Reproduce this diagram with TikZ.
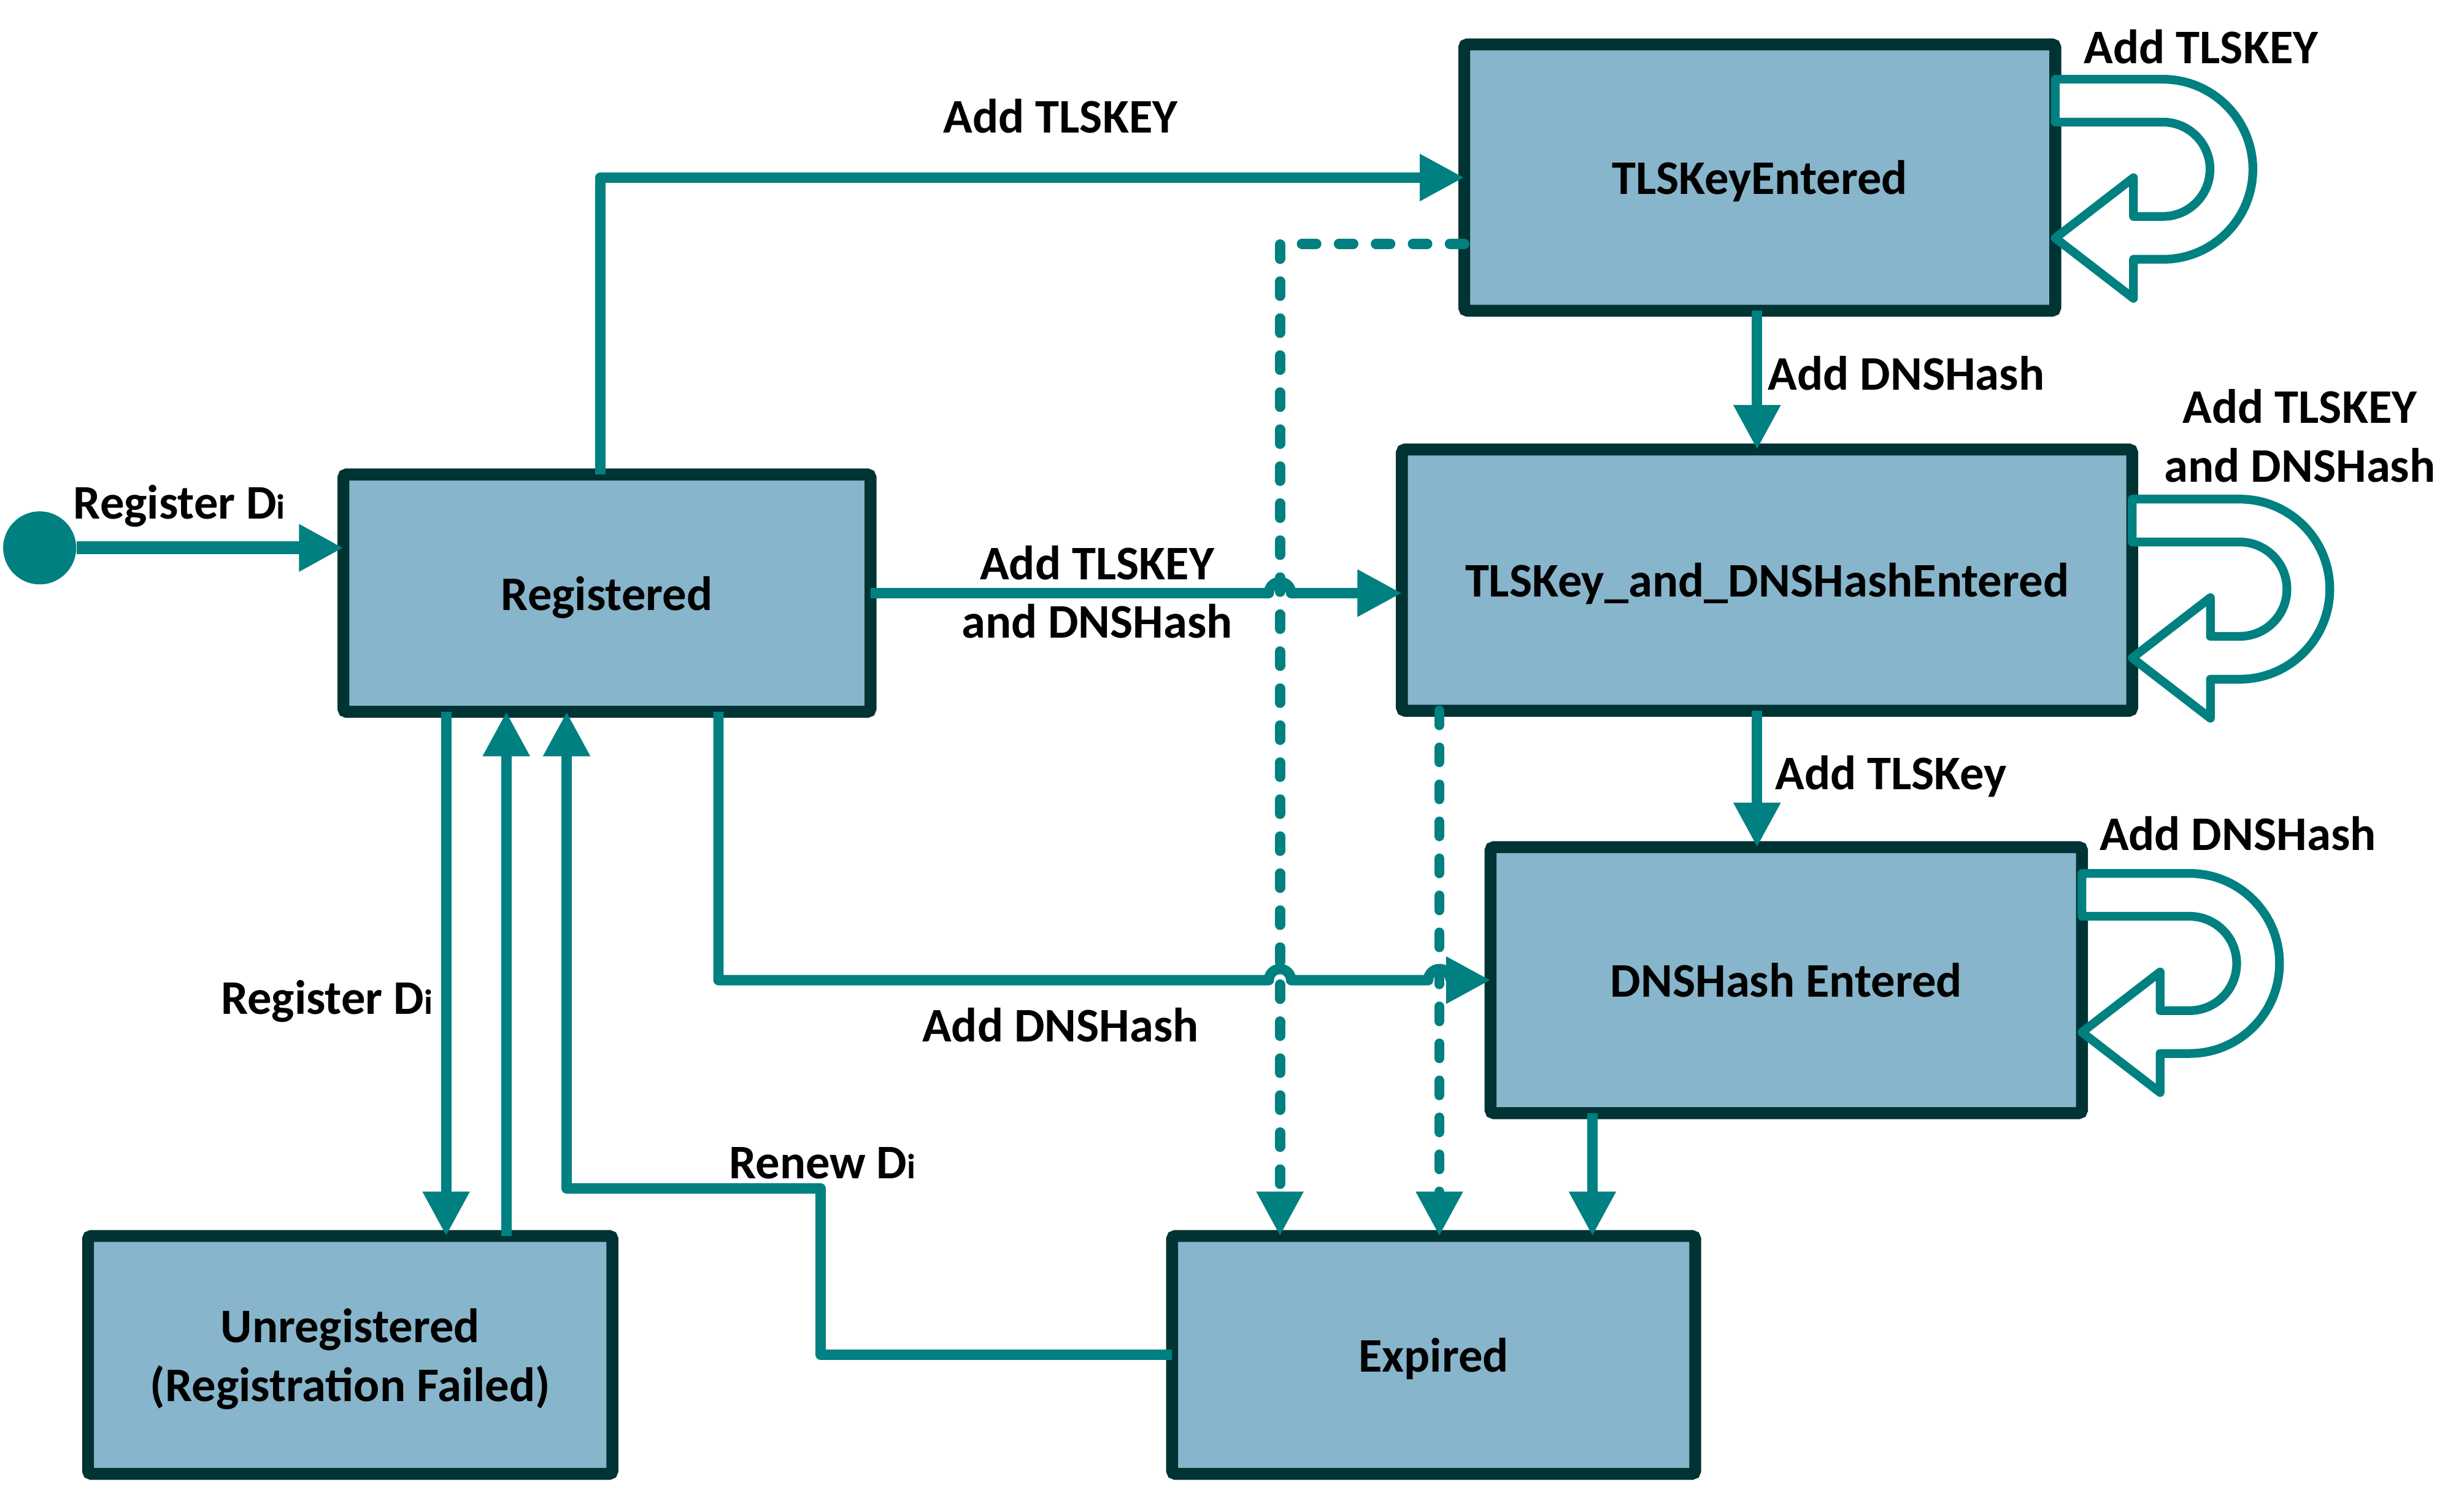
\documentclass[tikz,border=0pt]{standalone}
\usepackage{fontspec}
\setmainfont{Carlito}
\usetikzlibrary{arrows.meta,calc}
\definecolor{cline}{RGB}{0,128,128}
\definecolor{cfill}{RGB}{135,181,203}
\definecolor{cedge}{RGB}{0,51,51}
\newcommand{\lblfont}{\fontsize{30.4}{37}\selectfont\bfseries}
\newcommand{\Dsub}{D{\fontsize{22}{22}\selectfont i}}

\begin{document}
\begin{tikzpicture}[x=1pt, y=-1pt, >={Triangle[length=28pt,width=28pt]}]
	\tikzstyle{state}=[rectangle, draw=cedge, fill=cfill, line width=7.5pt, rounded corners=2pt, outer sep=0pt, inner sep=0pt, text depth=0pt, font=\lblfont, align=center]
	\tikzstyle{conn}=[draw=cline, line width=6.5pt, line join=round, ->]
	\tikzstyle{dconn}=[conn, line cap=round, dash pattern=on 9pt off 14.3pt]
	\tikzstyle{lbl}=[font=\lblfont, anchor=base, inner sep=0pt]
	\tikzstyle{uturn}=[draw=cline, fill=white, line width=5.5pt, line join=round]

	\useasboundingbox (0,0) rectangle (1552,936);

	% ETATS
	\node[state, minimum width=332pt, minimum height=149.5pt] (reg) at (382.3,373.5) {Registered};
	\node[state, minimum width=372.3pt, minimum height=167.7pt] (tlsk) at (1108.4,111.8) {TLSKeyEntered};
	\node[state, minimum width=460pt, minimum height=164.5pt] (both) at (1113,365.3) {TLSKey\_and\_DNSHashEntered};
	\node[state, minimum width=372.5pt, minimum height=167.5pt] (dnsh) at (1125.1,617.2) {DNSHash Entered};
	\node[state, minimum width=330.3pt, minimum height=149.8pt] (unreg) at (220.6,853.2) {Unregistered\\(Registration Failed)};
	\node[state, minimum width=329.5pt, minimum height=149.8pt] (exp) at (903,853.2) {Expired};
	\node[circle, fill=cline, minimum size=46pt, inner sep=0pt] (init) at (25,345) {};

	\coordinate (dA) at ([xshift=-96.8pt]exp.north);
	\coordinate (dB) at ([xshift=-206.4pt]both.south);
	\coordinate (rn) at (517,748.5);

	% EXPIRATION
	\draw[dconn] ([yshift=-41.7pt]tlsk.west) -| (dA);
	\draw[dconn] (dB) -- (dB |- exp.north);

	% TRANSITIONS
	\draw[conn, line width=8pt] (init) -- (init -| reg.west);
	\draw[conn] ([xshift=-4.3pt]reg.north) |- (tlsk);
	\draw[conn] (reg.east) -- ($(dA |- reg.east)+(-7,0)$) arc[start angle=180, end angle=360, radius=7] -- (reg.east -| both.west);
	\draw[conn] ([xshift=70.2pt]reg.south) |- ($(dA |- dnsh.west)+(-7,0)$) arc[start angle=180, end angle=360, radius=7]
		-- ($(dB |- dnsh.west)+(-7,0)$) arc[start angle=180, end angle=360, radius=7] -- (dnsh.west);
	\draw[conn] ([xshift=-1.7pt]tlsk.south) -- ([xshift=-1.7pt]tlsk.south |- both.north);
	\draw[conn] ([xshift=-6.3pt]both.south) -- ([xshift=-6.3pt]both.south |- dnsh.north);
	\draw[conn] ([xshift=-122.1pt]dnsh.south) -- ([xshift=-122.1pt]dnsh.south |- exp.north);
	\draw[conn] ([xshift=-101.3pt]reg.south) -- ([xshift=-101.3pt]reg.south |- unreg.north);
	\draw[conn] ([xshift=98.3pt]unreg.north) -- ([xshift=98.3pt]unreg.north |- reg.south);
	\draw[conn] (exp.west) -| (rn) -| ([xshift=-25.4pt]reg.south);

	% BOUCLES
	\foreach \b/\dy in {tlsk/-61.9, both/-51, dnsh/-67.2}
		\draw[uturn] ($(\b.east)+(0,\dy)$) -- ++(67.75,0) arc[start angle=-90, end angle=90, radius=56.7]
			-- ++(-18.5,0) -- ++(0,24.6) -- ++(-49.25,-38) -- ++(49.25,-38) -- ++(0,24.4) -- ++(18.5,0)
			arc[start angle=90, end angle=-90, radius=29.7] -- ++(-67.75,0) -- cycle;

	% ETIQUETTES
	\node[lbl] (lStart) at (113,326.6) {Register \Dsub};
	\node[lbl] (lTop) at (668,83.6) {Add TLSKEY};
	\node[lbl, anchor=center, align=center] (lMid) at (691,372.8) {Add TLSKEY\\and DNSHash};
	\node[lbl] (lBot) at (668,656) {Add DNSHash};
	\node[lbl] (lReg) at (205.8,638.8) {Register \Dsub};
	\node[lbl] (lRenew) at (518,742.2) {Renew \Dsub};
	\node[lbl] (lTB) at (1200.7,245.5) {Add DNSHash};
	\node[lbl] (lBD) at (1191,497) {Add TLSKey};
	\node[lbl] (lLoopT) at (1386.4,40) {Add TLSKEY};
	\node[lbl, anchor=center, align=center] (lLoopB) at (1448.6,274.5) {Add TLSKEY\\and DNSHash};
	\node[lbl] (lLoopD) at (1409.5,535.3) {Add DNSHash};
\end{tikzpicture}
\end{document}
